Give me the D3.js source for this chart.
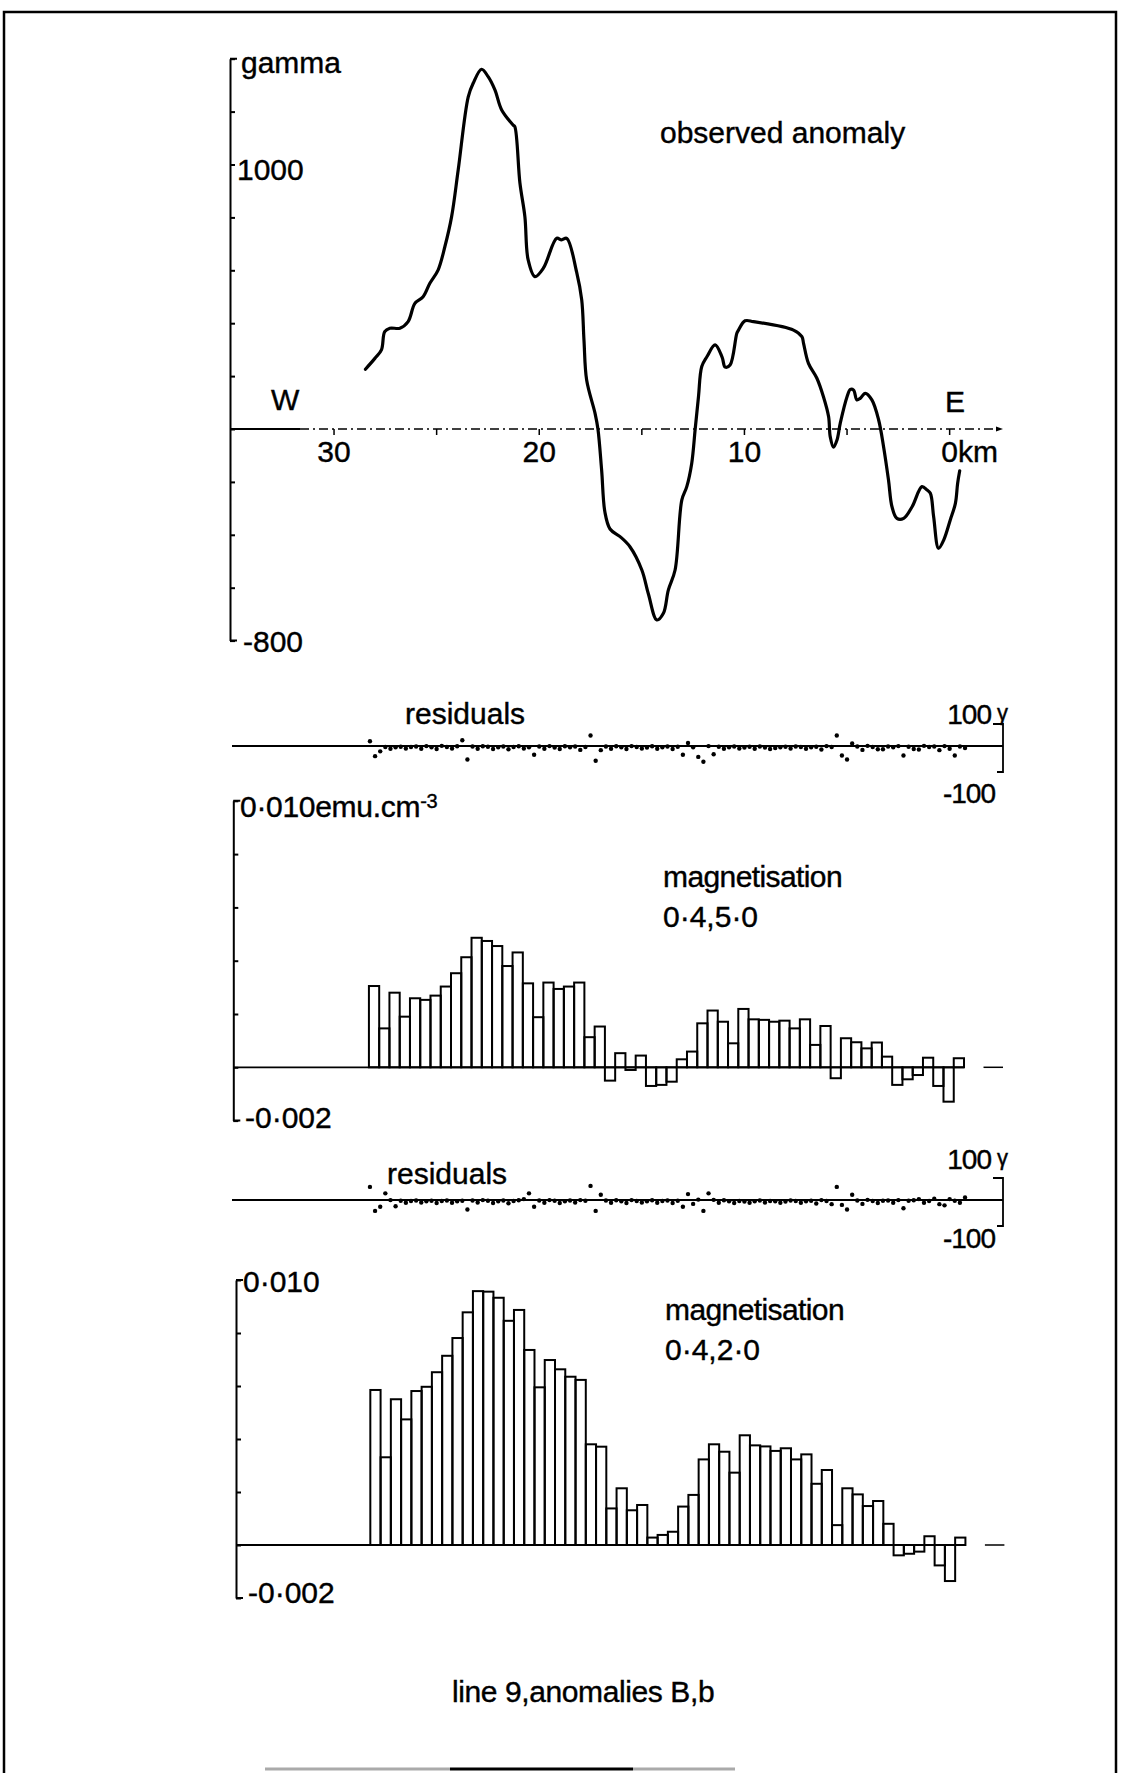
<!DOCTYPE html>
<html><head><meta charset="utf-8">
<script src="https://cdn.jsdelivr.net/npm/d3@7"></script>
<style>
html,body{margin:0;padding:0;background:#fff;}
svg text{font-family:"Liberation Sans",Arial,Helvetica,sans-serif;fill:#000;font-size:30px;stroke:#000;stroke-width:0.4px;}
</style></head><body>
<svg id="c" width="1125" height="1773"></svg>
<script>
// ---------------- data ----------------
const anomKm = [28.47,28.01,27.69,27.53,27.28,26.79,26.39,26.06,25.66,25.33,24.93,24.60,24.27,23.95,23.46,23.22,22.81,22.49,22.16,21.83,21.27,21.19,20.94,20.70,20.54,20.21,19.80,19.15,18.91,18.66,18.18,17.93,17.82,17.69,17.28,17.14,16.96,16.80,16.55,16.06,15.58,15.00,14.68,14.27,13.95,13.71,13.38,13.05,12.81,12.57,12.40,12.24,12.08,11.83,11.43,11.09,10.94,10.70,10.37,10.29,9.97,9.56,7.61,7.20,7.12,6.88,6.47,6.15,5.90,5.82,5.66,5.49,5.33,5.00,4.84,4.68,4.52,4.36,4.11,3.79,3.46,3.22,2.98,2.81,2.57,2.24,1.83,1.35,1.10,0.94,0.78,0.54,0.29,-0.03,-0.28,-0.39,-0.49];
const anomGamma = [226,267,299,368,381,381,406,475,500,551,601,689,803,979,1256,1307,1360,1332,1282,1206,1149,1143,929,803,639,576,608,721,715,721,594,488,336,185,59,0,-155,-314,-378,-407,-445,-533,-624,-722,-697,-609,-533,-268,-218,-130,0,122,236,273,318,272,234,242,362,374,409,406,374,349,324,248,192,122,47,-29,-69,-42,22,122,150,147,110,116,135,110,34,-67,-193,-294,-338,-338,-294,-218,-231,-243,-332,-451,-420,-344,-281,-205,-158];

const gammaTicks = [-800,-600,-400,-200,0,200,400,600,800,1000,1200,1400];
const kmTicks = [30,25,20,15,10,5,0];
const kmTickLabels = ["30","20","10","0km"];
const kmLabelValues = [30,20,10,0];

const barKm = [28.05,27.55,27.05,26.55,26.05,25.55,25.05,24.55,24.05,23.55,23.05,22.55,22.05,21.55,21.05,20.55,20.05,19.55,19.05,18.55,18.05,17.55,17.05,16.55,16.05,15.55,15.05,14.55,14.05,13.55,13.05,12.55,12.05,11.55,11.05,10.55,10.05,9.55,9.05,8.55,8.05,7.55,7.05,6.55,6.05,5.55,5.05,4.55,4.05,3.55,3.05,2.55,2.05,1.55,1.05,0.55,0.05,-0.45];
const mag1 = [0.00305,0.00146,0.0028,0.0019,0.00259,0.00253,0.00269,0.00303,0.00353,0.00413,0.00486,0.00474,0.00455,0.0038,0.00431,0.00315,0.00188,0.00318,0.00294,0.00303,0.00318,0.00113,0.00153,-0.0005,0.00053,-0.0001,0.00044,-0.0007,-0.00066,-0.00054,0.0003,0.00059,0.00165,0.00213,0.00171,0.0009,0.00219,0.0018,0.00178,0.00171,0.00175,0.00146,0.0018,0.00084,0.00155,-0.00041,0.00109,0.00094,0.00071,0.00093,0.0004,-0.00066,-0.00045,-0.00029,0.00036,-0.0007,-0.00129,0.00034];
const mag2 = [0.00585,0.00331,0.0055,0.00474,0.00581,0.00597,0.00652,0.00714,0.00781,0.00878,0.00958,0.00956,0.00933,0.00846,0.00887,0.00736,0.00595,0.00698,0.00663,0.00635,0.00623,0.0038,0.00371,0.00138,0.00214,0.00131,0.00151,0.00028,0.00038,0.0005,0.00145,0.00189,0.00323,0.0038,0.00352,0.00273,0.00414,0.00376,0.00372,0.00355,0.00365,0.00323,0.00342,0.00231,0.00283,0.00075,0.00214,0.00191,0.00147,0.00166,0.0008,-0.00039,-0.00033,-0.00025,0.00033,-0.00077,-0.00136,0.00028];
const magTicks = [-0.002,0,0.002,0.004,0.006,0.008,0.010];

const resKm = [28.25,28,27.75,27.5,27.25,27,26.75,26.5,26.25,26,25.75,25.5,25.25,25,24.75,24.5,24.25,24,23.75,23.5,23.25,23,22.75,22.5,22.25,22,21.75,21.5,21.25,21,20.75,20.5,20.25,20,19.75,19.5,19.25,19,18.75,18.5,18.25,18,17.75,17.5,17.25,17,16.75,16.5,16.25,16,15.75,15.5,15.25,15,14.75,14.5,14.25,14,13.75,13.5,13.25,13,12.75,12.5,12.25,12,11.75,11.5,11.25,11,10.75,10.5,10.25,10,9.75,9.5,9.25,9,8.75,8.5,8.25,8,7.75,7.5,7.25,7,6.75,6.5,6.25,6,5.75,5.5,5.25,5,4.75,4.5,4.25,4,3.75,3.5,3.25,3,2.75,2.5,2.25,2,1.75,1.5,1.25,1,0.75,0.5,0.25,0,-0.25,-0.5,-0.75];
const res1 = [28,-34,-14,4,-3,3,5,-2,4,6,-3,8,3,-4,9,4,-2,7,32,-48,6,-3,7,5,-4,3,6,-5,4,7,-2,3,-28,6,-3,8,2,-4,7,3,6,-8,4,52,-53,-9,6,-3,7,3,-4,8,4,-2,2,7,-3,3,6,-4,5,-28,21,3,-37,-57,8,-26,5,-3,3,6,-2,2,5,-3,6,2,-4,0,3,5,-2,6,4,-3,3,5,-6,8,4,52,-31,-48,19,6,-8,9,4,-5,-5,6,3,8,-31,5,-4,-6,9,4,6,-9,8,-3,-31,6,0];
const res2 = [63,-37,-20,36,8,-18,5,-3,4,6,-2,3,5,-4,4,6,-3,3,5,-31,6,-2,8,5,-4,3,6,-5,4,7,12,36,-20,6,-3,8,5,-4,3,6,-2,8,5,67,-37,30,6,-3,7,3,-4,8,4,-2,3,7,-3,4,6,-4,5,-20,33,-8,10,-37,36,9,-3,7,3,-4,4,2,-3,3,6,-2,4,3,-3,2,6,4,-3,3,5,-6,8,4,-9,63,-12,-31,30,6,-8,9,4,-4,5,6,-3,8,-26,5,7,12,-3,4,14,-9,-14,12,5,-3,19];

// ---------------- drawing ----------------
const svg = d3.select("#c");
const ink = "#000";

// frame
const frame = svg.append("g").attr("stroke", ink).attr("fill", "none");
frame.append("path").attr("d", "M4,1773 L4,12 L1116,12 L1116,1773").attr("stroke-width", 2.5);
frame.append("line").attr("x1", 265).attr("x2", 450).attr("y1", 1769).attr("y2", 1769).attr("stroke", "#aaa").attr("stroke-width", 3);
frame.append("line").attr("x1", 450).attr("x2", 633).attr("y1", 1769).attr("y2", 1769).attr("stroke-width", 3);
frame.append("line").attr("x1", 633).attr("x2", 735).attr("y1", 1769).attr("y2", 1769).attr("stroke", "#aaa").attr("stroke-width", 3);

// shared horizontal scale (km, W to E)
const x = d3.scaleLinear().domain([35.07, -2.6]).range([230, 1003]);
const barW = x(0) - x(0.5);

function vAxis(g, scale, ticks, ax) {
  const a = d3.axisRight(scale).tickValues(ticks).tickSize(5).tickFormat("").tickSizeOuter(0);
  const gg = g.append("g").attr("transform", `translate(${ax},0)`).call(a);
  gg.select(".domain").attr("stroke", ink).attr("stroke-width", 2);
  gg.selectAll(".tick line").attr("stroke", ink).attr("stroke-width", 2);
  const [lo, hi] = scale.range();
  gg.append("path").attr("d", `M7,${hi} L0,${hi} M0,${lo} L7,${lo}`).attr("stroke", ink).attr("stroke-width", 2).attr("fill", "none");
  return gg;
}

// ---------- panel 1: observed anomaly ----------
const yA = d3.scaleLinear().domain([-800, 1400]).range([640.6, 58.7]);
const p1 = svg.append("g");
vAxis(p1, yA, gammaTicks, 230);
p1.append("line").attr("x1", 230).attr("x2", 300).attr("y1", yA(0)).attr("y2", yA(0)).attr("stroke", ink).attr("stroke-width", 2);
p1.append("line").attr("x1", 300).attr("x2", x(-2.6)).attr("y1", yA(0)).attr("y2", yA(0))
  .attr("stroke", ink).attr("stroke-width", 1.5).attr("stroke-dasharray", "9,4,2,4");
p1.append("path").attr("d", `M${x(-2.6)-7},${yA(0)-2.5} L${x(-2.6)},${yA(0)} L${x(-2.6)-7},${yA(0)+2.5}`).attr("fill", ink);
p1.selectAll(".kt").data(kmTicks).enter().append("line")
  .attr("x1", d => x(d)).attr("x2", d => x(d)).attr("y1", yA(0)).attr("y2", yA(0) + 6)
  .attr("stroke", ink).attr("stroke-width", 1.5);
p1.selectAll(".kl").data(kmLabelValues).enter().append("text")
  .attr("x", (d, i) => i === 3 ? x(d) - 8.3 : x(d)).attr("y", 461.5)
  .attr("text-anchor", (d, i) => i === 3 ? "start" : "middle")
  .text((d, i) => kmTickLabels[i]);
p1.append("text").attr("x", 241).attr("y", 73).text("gamma");
p1.append("text").attr("x", 237).attr("y", yA(1000) + 15.5).text("1000");
p1.append("text").attr("x", 243).attr("y", yA(-800) + 11).text("-800");
p1.append("text").attr("x", 271).attr("y", 410).text("W");
p1.append("text").attr("x", 945).attr("y", 411.5).text("E");
p1.append("text").attr("x", 660).attr("y", 143).text("observed anomaly");
const anomData = anomKm.map((k, i) => [k, anomGamma[i]]);
p1.append("path").datum(anomData)
  .attr("d", d3.line().x(d => x(d[0])).y(d => yA(d[1])).curve(d3.curveCatmullRom.alpha(0.5)))
  .attr("fill", "none").attr("stroke", ink).attr("stroke-width", 3.2).attr("stroke-linejoin", "round").attr("stroke-linecap", "round");

// ---------- residual panels ----------
function residPanel(lineY, vals, labelX, labelY, topLabelY, botLabelY) {
  const g = svg.append("g");
  const yR = d3.scaleLinear().domain([-100, 100]).range([lineY + 26, lineY - 22]);
  g.append("line").attr("x1", 232).attr("x2", 1003).attr("y1", lineY).attr("y2", lineY).attr("stroke", ink).attr("stroke-width", 1.8);
  g.append("path").attr("d", `M993,${yR(100)} L1003,${yR(100)} L1003,${yR(-100)} L997,${yR(-100)}`)
    .attr("stroke", ink).attr("stroke-width", 1.8).attr("fill", "none");
  g.selectAll("circle").data(vals).enter().append("circle")
    .attr("cx", (d, i) => x(resKm[i])).attr("cy", d => yR(d)).attr("r", 2.2).attr("fill", ink);
  g.append("text").attr("x", labelX).attr("y", labelY).text("residuals");
  g.append("text").attr("x", 991).attr("y", topLabelY).attr("text-anchor", "end").attr("letter-spacing", "-1").style("font-size", "28px").text("100");
  g.append("text").attr("x", 997).attr("y", topLabelY - 4).style("font-size", "22px").text("γ");
  g.append("text").attr("x", 995).attr("y", botLabelY).attr("text-anchor", "end").attr("letter-spacing", "-1").style("font-size", "28px").text("-100");
}
residPanel(746, res1, 405, 724, 724, 803);

// ---------- magnetisation panels ----------
function magPanel(vals, yRange, axX, shift, labels) {
  const g = svg.append("g");
  const yM = d3.scaleLinear().domain([-0.002, 0.010]).range(yRange);
  vAxis(g, yM, magTicks, axX);
  const gb = g.append("g").attr("transform", `translate(${shift},0)`);
  gb.append("line").attr("x1", axX - shift).attr("x2", x(-0.7)).attr("y1", yM(0)).attr("y2", yM(0)).attr("stroke", ink).attr("stroke-width", 1.8);
  gb.append("line").attr("x1", x(-1.65)).attr("x2", x(-2.6)).attr("y1", yM(0)).attr("y2", yM(0)).attr("stroke", ink).attr("stroke-width", 1.5);
  gb.selectAll("rect").data(vals).enter().append("rect")
    .attr("x", (d, i) => x(barKm[i]) - barW / 2)
    .attr("width", barW)
    .attr("y", d => yM(Math.max(0, d)))
    .attr("height", d => Math.abs(yM(d) - yM(0)))
    .attr("fill", "none").attr("stroke", ink).attr("stroke-width", 2);
  labels(g, yM);
}
magPanel(mag1, [1120.6, 800.8], 233.3, 0, (g, yM) => {
  const t = g.append("text").attr("x", 240).attr("y", 817).attr("letter-spacing", "-0.3");
  t.append("tspan").text("0·010emu.cm");
  t.append("tspan").attr("dy", -9).style("font-size", "20px").text("-3");
  g.append("text").attr("x", 245).attr("y", 1128).text("-0·002");
  g.append("text").attr("x", 663).attr("y", 887).attr("letter-spacing", "-0.6").text("magnetisation");
  g.append("text").attr("x", 663).attr("y", 927).text("0·4,5·0");
});

residPanel(1200, res2, 387, 1184, 1169, 1248);

magPanel(mag2, [1598, 1280], 236, 1.4, (g, yM) => {
  g.append("text").attr("x", 243).attr("y", 1292).text("0·010");
  g.append("text").attr("x", 248).attr("y", 1603).text("-0·002");
  g.append("text").attr("x", 665).attr("y", 1320).attr("letter-spacing", "-0.6").text("magnetisation");
  g.append("text").attr("x", 665).attr("y", 1360).text("0·4,2·0");
});

// caption
svg.append("text").attr("x", 452).attr("y", 1702).attr("letter-spacing", "-0.4").text("line 9,anomalies B,b");
</script>
</body></html>
